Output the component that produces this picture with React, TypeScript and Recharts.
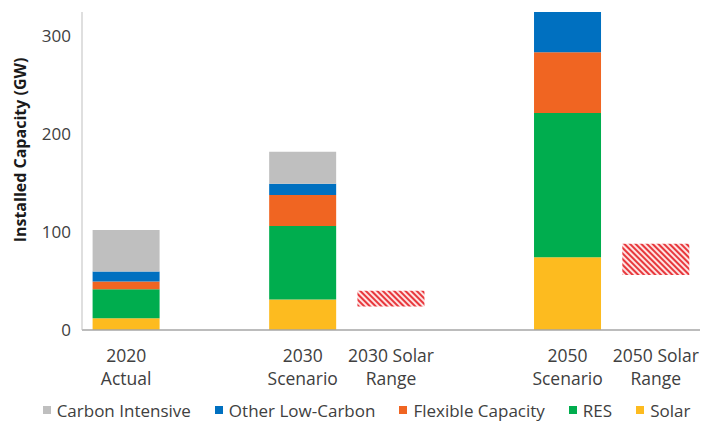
import React from "react";
import { BarChart, Bar, XAxis, YAxis, Legend } from "recharts";

const categories = ["2020\nActual", "", "2030\nScenario", "2030 Solar\nRange", " ", "2050\nScenario", "2050 Solar\nRange"];
const solar = [12, 0, 31, 0, 0, 74, 0];
const res = [29.5, 0, 75, 0, 0, 147, 0];
const flexibleCapacity = [8, 0, 31.5, 0, 0, 62, 0];
const otherLowCarbon = [10, 0, 11.5, 0, 0, 41, 0];
const carbonIntensive = [42.5, 0, 32.5, 0, 0, 0, 0];
const solarRangeLow = [0, 0, 0, 24, 0, 0, 56];
const solarRangeHigh = [0, 0, 0, 40, 0, 0, 88];
const yTicks = [0, 100, 200, 300];

const seriesNames = ["Solar", "RES", "Flexible Capacity", "Other Low-Carbon", "Carbon Intensive"];
const seriesColors = ["#fdbb1f", "#00ad4e", "#f06522", "#0070c0", "#bfbfbf"];
const legendOrder = ["Carbon Intensive", "Other Low-Carbon", "Flexible Capacity", "RES", "Solar"];

const data = categories.map((name, i) => ({
  name,
  solar: solar[i],
  res: res[i],
  flexible: flexibleCapacity[i],
  other: otherLowCarbon[i],
  carbon: carbonIntensive[i],
  rangeBase: solarRangeLow[i],
  rangeSpan: solarRangeHigh[i] - solarRangeLow[i],
}));

const keys = ["solar", "res", "flexible", "other", "carbon"];
const FONT = "'Open Sans', sans-serif";

const XTick = (props: any) => {
  const { x, y, payload } = props;
  const lines = String(payload.value).split("\n");
  return (
    <text x={x} y={y} textAnchor="middle" fill="#404040" fontSize={17.5} fontFamily={FONT}>
      {lines.map((l: string, i: number) => (
        <tspan key={i} x={x} dy={i === 0 ? 24 : 23}>
          {l}
        </tspan>
      ))}
    </text>
  );
};

const LegendContent = () => (
  <div
    style={{
      display: "flex",
      justifyContent: "center",
      alignItems: "center",
      gap: 24,
      height: 24,
      fontFamily: FONT,
      fontSize: 17,
      color: "#404040",
      paddingLeft: 33,
      whiteSpace: "nowrap",
    }}
  >
    {legendOrder.map((n) => {
      const c = seriesColors[seriesNames.indexOf(n)];
      return (
        <div key={n} style={{ display: "flex", alignItems: "center" }}>
          <span style={{ display: "inline-block", width: 8, height: 8, background: c, marginRight: 6 }} />
          <span>{n}</span>
        </div>
      );
    })}
  </div>
);

export default function App() {
  return (
    <div style={{ position: "absolute", left: 0, top: 0, background: "#fff" }}>
      <BarChart
        width={701}
        height={422}
        data={data}
        margin={{ top: 12, right: 1, bottom: 0, left: 0 }}
        barCategoryGap="12%"
      >
        <defs>
          <pattern id="hatch" width="4" height="4" patternUnits="userSpaceOnUse" patternTransform="rotate(-45)">
            <rect width="4" height="4" fill="#fde3e3" />
            <rect width="2" height="4" fill="#e8383d" />
          </pattern>
        </defs>
        <XAxis
          dataKey="name"
          height={68}
          tickLine={false}
          axisLine={{ stroke: "#a6a6a6", strokeWidth: 1.5 }}
          tick={<XTick />}
          interval={0}
        />
        <YAxis
          width={82}
          domain={[0, 324]}
          ticks={yTicks}
          tickLine={false}
          tickMargin={5}
          axisLine={{ stroke: "#bfbfbf" }}
          tick={{ fill: "#404040", fontSize: 17, fontFamily: FONT }}
          label={{
            content: () => (
              <text
                x={20}
                y={150}
                transform="rotate(-90 20 150)"
                textAnchor="middle"
                dominantBaseline="central"
                fontFamily={FONT}
                fontWeight="bold"
                fontSize={16}
                fill="#1a1a1a"
              >
                Installed Capacity (GW)
              </text>
            ),
          }}
        />
        {keys.map((k, i) => (
          <Bar key={k} dataKey={k} name={seriesNames[i]} stackId="a" fill={seriesColors[i]} isAnimationActive={false} />
        ))}
        <Bar dataKey="rangeBase" stackId="a" fill="transparent" legendType="none" isAnimationActive={false} />
        <Bar dataKey="rangeSpan" stackId="a" fill="url(#hatch)" legendType="none" isAnimationActive={false} />
        <Legend verticalAlign="bottom" height={24} content={<LegendContent />} />
      </BarChart>
    </div>
  );
}
